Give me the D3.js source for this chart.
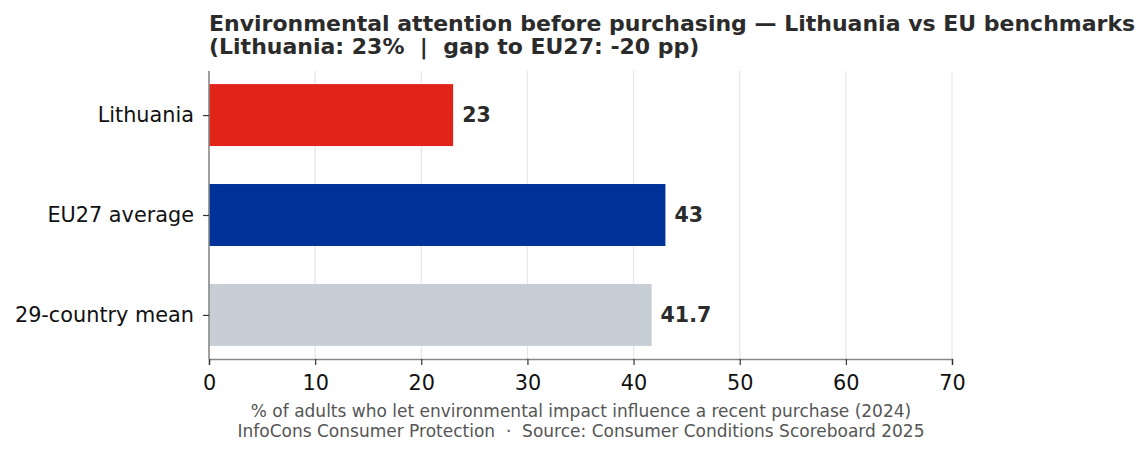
<!DOCTYPE html>
<html lang="en">
  <head>
    <meta charset="utf-8" />
    <script src="https://d3js.org/d3.v7.min.js"></script>
    <style type="text/css">
      body {
        margin: 0;
        background: white;
      }
      svg text {
        font-family: "DejaVu Sans", sans-serif;
        white-space: pre;
      }
    </style>
  </head>

  <body>
    <svg id="chart" width="1147" height="456"></svg>

    <script>
      // data
      let categories = ["Lithuania", "EU27 average", "29-country mean"];
      let values = [23, 43, 41.7];
      let barColors = ["#e2231a", "#003399", "#c8ced6"];
      let xTicks = [0, 10, 20, 30, 40, 50, 60, 70];
      let titleLines = [
        "Environmental attention before purchasing \u2014 Lithuania vs EU benchmarks",
        "(Lithuania: 23%  |  gap to EU27: -20 pp)",
      ];
      let footerLines = [
        "% of adults who let environmental impact influence a recent purchase (2024)",
        "InfoCons Consumer Protection  \u00b7  Source: Consumer Conditions Scoreboard 2025",
      ];

      let plotLeft = 209,
        plotRight = 952,
        plotTop = 71,
        plotBottom = 359;

      let svg = d3.select("#chart");

      let x = d3.scaleLinear().domain([0, 70]).range([plotLeft, plotRight]);
      // matplotlib-like barh: centres at 0,1,2 with 0.62 bars and 5% margins
      let y = d3.scaleLinear().domain([-0.441, 2.441]).range([plotTop, plotBottom]);
      let barH = 0.62;

      // grid
      svg
        .append("g")
        .selectAll("line")
        .data(xTicks.slice(1))
        .enter()
        .append("line")
        .attr("x1", (d) => x(d))
        .attr("x2", (d) => x(d))
        .attr("y1", plotTop)
        .attr("y2", plotBottom)
        .attr("stroke", "#e6e6e6")
        .attr("stroke-width", 1.2);

      // bars
      svg
        .append("g")
        .selectAll("rect")
        .data(values)
        .enter()
        .append("rect")
        .attr("x", x(0))
        .attr("y", (d, i) => y(i - barH / 2))
        .attr("width", (d) => x(d) - x(0))
        .attr("height", (d, i) => y(i + barH / 2) - y(i - barH / 2))
        .attr("fill", (d, i) => barColors[i]);

      // value labels
      svg
        .append("g")
        .selectAll("text")
        .data(values)
        .enter()
        .append("text")
        .attr("x", (d) => x(d) + 9)
        .attr("y", (d, i) => y(i))
        .attr("dy", "0.36em")
        .attr("font-size", "20.5px")
        .attr("font-weight", "bold")
        .attr("fill", "#2b2b2b")
        .text((d) => d);

      // x axis
      let xAxis = d3
        .axisBottom(x)
        .tickValues(xTicks)
        .tickSize(6)
        .tickPadding(10)
        .tickFormat(d3.format("d"));
      let gx = svg
        .append("g")
        .attr("transform", "translate(0," + plotBottom + ")")
        .call(xAxis);
      gx.select(".domain").attr("stroke", "#888").attr("stroke-width", 1.6);
      gx.selectAll(".tick line").attr("stroke", "#333").attr("stroke-width", 1.2);
      gx.selectAll(".tick text")
        .attr("font-size", "20.8px")
        .attr("font-family", "DejaVu Sans")
        .attr("fill", "#111");

      // y axis
      let yBand = d3
        .scalePoint()
        .domain(categories)
        .range([y(0), y(2)]);
      let yAxis = d3.axisLeft(yBand).tickSize(6).tickPadding(9);
      let gy = svg
        .append("g")
        .attr("transform", "translate(" + plotLeft + ",0)")
        .call(yAxis);
      gy.select(".domain")
        .attr("d", "M0," + plotTop + "V" + plotBottom)
        .attr("stroke", "#888")
        .attr("stroke-width", 1.6);
      gy.selectAll(".tick line").attr("stroke", "#333").attr("stroke-width", 1.2);
      gy.selectAll(".tick text")
        .attr("font-size", "20.8px")
        .attr("font-family", "DejaVu Sans")
        .attr("fill", "#111");

      // title
      svg
        .append("g")
        .selectAll("text")
        .data(titleLines)
        .enter()
        .append("text")
        .attr("x", plotLeft)
        .attr("y", (d, i) => 31 + i * 23)
        .attr("font-size", "22px")
        .attr("font-weight", "bold")
        .attr("fill", "#2b2b2b")
        .text((d) => d);

      // footer
      svg
        .append("g")
        .selectAll("text")
        .data(footerLines)
        .enter()
        .append("text")
        .attr("x", (plotLeft + plotRight) / 2 + 0.5)
        .attr("y", (d, i) => 417 + i * 20)
        .attr("text-anchor", "middle")
        .attr("font-size", "17px")
        .attr("fill", "#555")
        .text((d) => d);
    </script>
  </body>
</html>
